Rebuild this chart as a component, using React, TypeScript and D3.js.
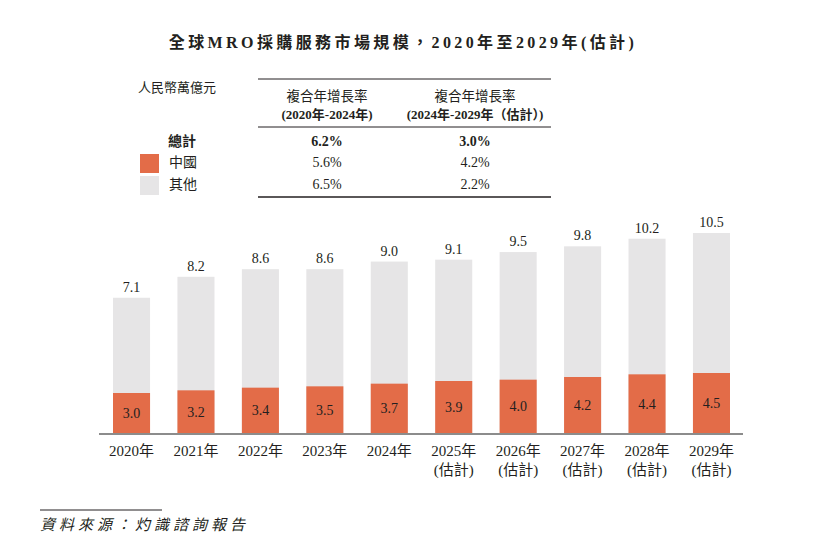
import { useEffect, useRef } from "react";
import { select, scaleBand, scaleLinear } from "d3";

// chart data
const years = ["2020年", "2021年", "2022年", "2023年", "2024年", "2025年", "2026年", "2027年", "2028年", "2029年"];
const estimated = [false, false, false, false, false, true, true, true, true, true];
const totalValues = [7.1, 8.2, 8.6, 8.6, 9.0, 9.1, 9.5, 9.8, 10.2, 10.5];
const chinaValues = [3.0, 3.2, 3.4, 3.5, 3.7, 3.9, 4.0, 4.2, 4.4, 4.5];

// CAGR table
const cagrRows = ["總計", "中國", "其他"];
const cagrHeaders = ["(2020年-2024年)", "(2024年-2029年（估計）)"];
const cagrFirst = ["6.2%", "5.6%", "6.5%"];
const cagrSecond = ["3.0%", "4.2%", "2.2%"];

const width = 827;
const height = 551;
const baseline = 433;

const orange = "#E36C48";
const grey = "#E6E5E6";
const ink = "#231F20";
const font = "'Liberation Serif', 'Noto Sans CJK TC', serif";

export default function App() {
  const ref = useRef(null);

  useEffect(() => {
    document.body.style.margin = "0";
    if (!ref.current) return;
    const svg = select(ref.current);
    svg.selectAll("*").remove();

    // scales
    const x = scaleBand().domain(years).range([113, 730]).paddingInner(0.425).paddingOuter(0);
    const yTotal = scaleLinear().domain([0, 10.5]).range([baseline, 233]);
    // the China segment in the source uses its own, flatter scale
    const yChina = scaleLinear().domain([0, 4.5]).range([baseline, 373]);

    const data = years.map((y, i) => ({ year: y, total: totalValues[i], china: chinaValues[i], est: estimated[i] }));

    // title
    svg
      .append("text")
      .attr("x", 403)
      .attr("y", 48)
      .attr("text-anchor", "middle")
      .attr("font-family", font)
      .attr("font-size", 16)
      .attr("font-weight", "700")
      .attr("letter-spacing", "3.4px")
      .attr("fill", ink)
      .text("全球MRO採購服務市場規模，2020年至2029年(估計)");

    // unit
    svg
      .append("text")
      .attr("x", 138)
      .attr("y", 92)
      .attr("font-family", font)
      .attr("font-size", 13)
      .attr("fill", ink)
      .text("人民幣萬億元");

    // table rules
    const table = svg.append("g");
    [79, 127].forEach((ty) =>
      table.append("line").attr("x1", 258).attr("x2", 551).attr("y1", ty).attr("y2", ty).attr("stroke", ink).attr("stroke-width", 1)
    );
    table.append("line").attr("x1", 258).attr("x2", 551).attr("y1", 197).attr("y2", 197).attr("stroke", ink).attr("stroke-width", 1.5);

    const colX = [327, 475];
    colX.forEach((cx, i) => {
      table
        .append("text")
        .attr("x", cx)
        .attr("y", 101)
        .attr("text-anchor", "middle")
        .attr("font-family", font)
        .attr("font-size", 13.5)
        .attr("fill", ink)
        .text("複合年增長率");
      table
        .append("text")
        .attr("x", cx)
        .attr("y", 119)
        .attr("text-anchor", "middle")
        .attr("font-family", font)
        .attr("font-size", 13)
        .attr("font-weight", "700")
        .attr("fill", ink)
        .text(cagrHeaders[i]);
    });

    const rowY = [146, 167, 189];
    cagrRows.forEach((label, i) => {
      const bold = i === 0 ? "700" : "400";
      table
        .append("text")
        .attr("x", i === 0 ? 168 : 169)
        .attr("y", rowY[i])
        .attr("font-family", font)
        .attr("font-size", 14)
        .attr("font-weight", bold)
        .attr("fill", ink)
        .text(label);
      [cagrFirst[i], cagrSecond[i]].forEach((v, j) => {
        table
          .append("text")
          .attr("x", colX[j])
          .attr("y", rowY[i])
          .attr("text-anchor", "middle")
          .attr("font-family", font)
          .attr("font-size", 14)
          .attr("font-weight", bold)
          .attr("fill", ink)
          .text(v);
      });
    });

    // legend swatches
    table.append("rect").attr("x", 140).attr("y", 154).attr("width", 19).attr("height", 19).attr("fill", orange);
    table.append("rect").attr("x", 140).attr("y", 176).attr("width", 19).attr("height", 19).attr("fill", grey);

    // bars
    const bars = svg.append("g").selectAll("g").data(data).enter().append("g");

    bars
      .append("rect")
      .attr("x", (d) => x(d.year) as number)
      .attr("y", (d) => yTotal(d.total))
      .attr("width", x.bandwidth())
      .attr("height", (d) => baseline - yTotal(d.total))
      .attr("fill", grey);

    bars
      .append("rect")
      .attr("x", (d) => x(d.year) as number)
      .attr("y", (d) => yChina(d.china))
      .attr("width", x.bandwidth())
      .attr("height", (d) => baseline - yChina(d.china))
      .attr("fill", orange);

    // total labels
    bars
      .append("text")
      .attr("x", (d) => (x(d.year) as number) + x.bandwidth() / 2)
      .attr("y", (d) => yTotal(d.total) - 6)
      .attr("text-anchor", "middle")
      .attr("font-family", font)
      .attr("font-size", 14)
      .attr("fill", ink)
      .text((d) => d.total.toFixed(1));

    // china labels
    bars
      .append("text")
      .attr("x", (d) => (x(d.year) as number) + x.bandwidth() / 2)
      .attr("y", (d) => (yChina(d.china) + baseline) / 2 + 5)
      .attr("text-anchor", "middle")
      .attr("font-family", font)
      .attr("font-size", 14)
      .attr("fill", ink)
      .text((d) => d.china.toFixed(1));

    // axis line
    svg
      .append("line")
      .attr("x1", 99)
      .attr("x2", 743)
      .attr("y1", baseline + 1)
      .attr("y2", baseline + 1)
      .attr("stroke", "#8C8C8C")
      .attr("stroke-width", 2);

    // x labels
    bars
      .append("text")
      .attr("x", (d) => (x(d.year) as number) + x.bandwidth() / 2)
      .attr("y", 456)
      .attr("text-anchor", "middle")
      .attr("font-family", font)
      .attr("font-size", 15)
      .attr("fill", ink)
      .text((d) => d.year);

    bars
      .filter((d) => d.est)
      .append("text")
      .attr("x", (d) => (x(d.year) as number) + x.bandwidth() / 2)
      .attr("y", 475)
      .attr("text-anchor", "middle")
      .attr("font-family", font)
      .attr("font-size", 15)
      .attr("fill", ink)
      .text("(估計)");

    // source
    svg.append("line").attr("x1", 40).attr("x2", 162).attr("y1", 510).attr("y2", 510).attr("stroke", ink).attr("stroke-width", 1);
    svg
      .append("text")
      .attr("x", 40)
      .attr("y", 530)
      .attr("font-family", font)
      .attr("font-size", 15)
      .attr("font-style", "italic")
      .attr("letter-spacing", "4px")
      .attr("fill", ink)
      .text("資料來源：灼識諮詢報告");
  }, []);

  return <svg ref={ref} width={width} height={height} style={{ display: "block", background: "#fff" }} />;
}
